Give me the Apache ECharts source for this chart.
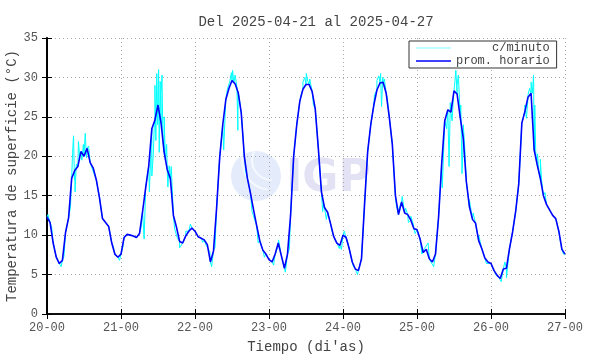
<!DOCTYPE html>
<html>
<head>
<meta charset="utf-8">
<script src="https://cdn.jsdelivr.net/npm/echarts@6/dist/echarts.min.js"></script>
<style>
  html, body { margin: 0; padding: 0; background: #fff; }
  #chart { width: 590px; height: 354px; }
</style>
</head>
<body>
<div id="chart"></div>
<script>
// tick labels of the time axis (one per day, hours since 20-00)
const dayLabels = ['20-00', '21-00', '22-00', '23-00', '24-00', '25-00', '26-00', '27-00']

// hourly mean (prom. horario), one array per day, h0..h23
const day20 = [12.3, 11.6, 9.0, 7.2, 6.4, 6.8, 10.3, 12.2, 17.2, 18.2, 18.7, 20.6, 20.0, 21.0, 19.2, 18.5, 17.0, 14.8, 12.1, 11.6, 11.1, 9.0, 7.6, 7.2]
const day21 = [7.6, 9.7, 10.1, 10.0, 9.9, 9.7, 10.2, 13.0, 16.0, 18.8, 23.5, 24.6, 26.5, 24.2, 20.5, 18.3, 17.2, 12.5, 11.0, 9.2, 9.0, 9.9, 10.5, 10.9]
const day22 = [10.5, 9.8, 9.6, 9.4, 8.8, 6.6, 8.0, 13.4, 19.8, 24.0, 27.2, 28.6, 29.6, 29.2, 28.1, 25.5, 20.0, 17.2, 15.3, 13.2, 11.2, 9.3, 8.1, 7.6]
const day23 = [6.9, 6.6, 7.6, 9.0, 7.4, 5.8, 7.6, 12.5, 20.0, 24.0, 27.0, 28.5, 29.1, 29.1, 28.2, 26.0, 21.0, 15.5, 13.5, 12.9, 11.4, 9.8, 9.0, 8.7]
const day24 = [10.0, 9.7, 8.3, 6.6, 5.7, 5.5, 7.0, 14.0, 20.6, 24.0, 26.5, 28.4, 29.3, 29.4, 28.0, 25.0, 21.5, 15.0, 12.6, 14.2, 12.8, 12.6, 11.9, 10.8]
const day25 = [10.7, 9.5, 7.8, 8.2, 7.0, 6.6, 7.6, 12.3, 19.0, 24.5, 25.9, 25.6, 28.3, 27.9, 25.0, 22.3, 16.8, 13.6, 12.0, 11.5, 9.3, 8.3, 7.1, 6.6]
const day26 = [6.4, 5.5, 4.9, 4.5, 5.7, 5.8, 8.3, 10.4, 13.0, 16.5, 24.2, 25.7, 27.5, 28.0, 20.8, 18.9, 17.2, 15.0, 13.9, 13.2, 12.5, 12.1, 10.5, 8.2]
const lastHour = [7.6]

// per-minute readings where they leave the hourly curve: [hours since 20-00, value]
const minuteDay20 = [[0.3, 12.6], [1.5, 11.0], [3.5, 6.8], [4.6, 6.0], [5.5, 7.3], [7.6, 13.5], [8.3, 20.5], [8.6, 22.6], [8.9, 17.0], [9.1, 15.5], [9.5, 19.0], [10.2, 21.9], [10.6, 20.0], [11.3, 19.5], [11.8, 21.5], [12.4, 22.9], [12.8, 19.8], [13.5, 21.3], [14.5, 18.6], [21.5, 8.6], [23.0, 7.0], [23.5, 6.8]]
const minuteDay21 = [[24.6, 8.5], [30.5, 10.9], [31.5, 9.5], [33.2, 15.5], [34.0, 17.5], [34.5, 20.4], [34.8, 24.0], [35.0, 29.0], [35.3, 22.0], [35.6, 30.5], [35.9, 24.0], [36.2, 31.0], [36.4, 20.5], [36.7, 29.5], [37.0, 28.0], [37.3, 30.3], [37.6, 22.0], [38.0, 25.0], [38.4, 19.5], [38.8, 21.5], [39.2, 16.1], [39.6, 18.8], [40.3, 18.7], [41.4, 10.8], [42.3, 9.6], [43.0, 8.4], [44.4, 9.2], [45.0, 10.5], [46.5, 11.4]]
const minuteDay22 = [[49.0, 10.0], [50.5, 9.1], [51.5, 8.8], [52.8, 7.9], [53.4, 6.0], [54.5, 8.5], [56.8, 23.0], [57.3, 20.8], [57.8, 25.5], [58.5, 28.5], [59.3, 29.5], [59.8, 30.6], [60.2, 30.9], [60.6, 29.3], [61.0, 30.3], [61.6, 28.8], [61.9, 23.3], [62.3, 27.5], [64.5, 18.0], [66.5, 13.0], [68.5, 9.0], [70.5, 7.2]]
const minuteDay23 = [[73.5, 6.2], [74.8, 8.4], [75.1, 9.4], [77.3, 5.3], [78.6, 8.2], [82.4, 27.8], [83.0, 29.4], [83.6, 30.0], [84.1, 30.5], [84.6, 29.5], [85.2, 29.8], [86.4, 26.5], [89.4, 13.0], [89.7, 14.0], [90.6, 12.0], [92.3, 10.7], [93.0, 9.6], [94.8, 8.3], [95.5, 8.2]]
const minuteDay24 = [[96.4, 10.5], [97.6, 9.0], [99.3, 6.1], [100.7, 5.0], [101.5, 5.4], [106.2, 27.8], [107.0, 29.6], [107.6, 30.2], [108.2, 30.5], [108.5, 26.3], [108.9, 30.0], [109.4, 29.8], [110.3, 27.5], [113.3, 13.8], [114.0, 13.2], [115.2, 14.9], [116.3, 13.4], [117.2, 11.6], [118.0, 12.4], [118.8, 11.4], [119.4, 10.2]]
const minuteDay25 = [[120.4, 10.2], [121.6, 7.6], [122.4, 8.3], [123.6, 9.0], [124.5, 6.6], [125.4, 6.0], [128.2, 16.0], [129.6, 23.5], [130.0, 26.0], [130.4, 18.7], [130.8, 26.8], [131.4, 24.5], [131.8, 27.5], [132.3, 29.5], [132.6, 30.9], [133.0, 29.0], [133.4, 30.3], [133.8, 27.0], [134.2, 26.5], [134.6, 17.8], [135.0, 24.0], [135.5, 21.0], [137.0, 14.5], [138.2, 12.8], [140.0, 10.0], [142.5, 6.4]]
const minuteDay26 = [[145.5, 5.0], [146.6, 4.6], [147.3, 4.1], [148.5, 6.6], [149.0, 4.6], [154.6, 24.4], [155.0, 26.5], [155.5, 24.8], [156.0, 27.8], [156.5, 28.6], [157.0, 29.4], [157.4, 28.0], [157.8, 30.3], [158.2, 26.5], [158.5, 20.6], [158.8, 19.0], [159.1, 20.3], [159.5, 18.0], [160.0, 19.6], [160.4, 17.0], [161.5, 15.4], [166.5, 9.2], [167.5, 7.6]]

const FONT = '"Liberation Mono", "DejaVu Sans Mono", monospace'

const hourly = [].concat(day20, day21, day22, day23, day24, day25, day26, lastHour)
const hourlyPoints = hourly.map((v, i) => [i, v])

// minute series: hourly points plus the readings that stray from them
const minutePoints = hourlyPoints
  .concat(minuteDay20, minuteDay21, minuteDay22, minuteDay23, minuteDay24, minuteDay25, minuteDay26)
  .sort((a, b) => a[0] - b[0])

const chart = echarts.init(document.getElementById('chart'), null, { renderer: 'canvas' })

const frameLine = { show: true, lineStyle: { color: '#000', width: 1.5 } }
const innerTick = { show: true, inside: true, length: 5, lineStyle: { color: '#000', width: 1 } }
const gridDots = { show: true, lineStyle: { color: '#a8a8a8', width: 1, type: [1, 3] } }

const option = {
  backgroundColor: '#fff',
  animation: false,
  title: {
    text: 'Del 2025-04-21 al 2025-04-27',
    left: 311,
    top: 10,
    textAlign: 'center',
    textStyle: { fontFamily: FONT, fontSize: 14, fontWeight: 'normal', color: '#444' }
  },
  legend: {
    data: [
      { name: 'c/minuto', icon: 'rect', itemStyle: { color: '#a8ffff' } },
      { name: 'prom. horario', icon: 'rect', itemStyle: { color: '#0000ff' } }
    ],
    orient: 'vertical',
    left: 409,
    top: 41,
    itemWidth: 35,
    itemHeight: 1.5,
    itemGap: 1,
    padding: [1, 7, 1, 7],
    borderColor: '#333',
    borderWidth: 1,
    borderRadius: 0,
    backgroundColor: '#fff',
    formatter: name => name.padStart(13, ' '),
    textStyle: { fontFamily: FONT, fontSize: 12, color: '#444', lineHeight: 12 }
  },
  grid: { left: 47, right: 25, top: 38, bottom: 40, containLabel: false, outerBoundsMode: 'none' },
  xAxis: [
    {
      type: 'value',
      min: 0,
      max: 168,
      interval: 24,
      name: "Tiempo (di'as)",
      nameLocation: 'middle',
      nameGap: 26,
      nameMoveOverlap: false,
      nameTextStyle: { fontFamily: FONT, fontSize: 14, color: '#444' },
      axisLine: frameLine,
      axisTick: innerTick,
      axisLabel: {
        margin: 8,
        fontFamily: FONT,
        fontSize: 12,
        color: '#555',
        formatter: v => dayLabels[Math.round(v / 24)]
      },
      splitLine: gridDots
    },
    {
      type: 'value',
      position: 'top',
      min: 0,
      max: 168,
      interval: 24,
      axisLine: frameLine,
      axisTick: innerTick,
      axisLabel: { show: false },
      splitLine: { show: false }
    }
  ],
  yAxis: [
    {
      type: 'value',
      min: 0,
      max: 35,
      interval: 5,
      name: 'Temperatura de superficie (°C)',
      nameLocation: 'middle',
      nameGap: 28,
      nameMoveOverlap: false,
      nameTextStyle: { fontFamily: FONT, fontSize: 14, color: '#444' },
      axisLine: frameLine,
      axisTick: innerTick,
      axisLabel: { margin: 9, fontFamily: FONT, fontSize: 12, color: '#555' },
      splitLine: gridDots
    },
    {
      type: 'value',
      position: 'right',
      min: 0,
      max: 35,
      interval: 5,
      axisLine: { show: true, lineStyle: { color: '#000', width: 2 } },
      axisTick: innerTick,
      axisLabel: { show: false },
      splitLine: { show: false }
    }
  ],
  graphic: [
    {
      type: 'group',
      z: 1,
      silent: true,
      children: [
        { type: 'circle', shape: { cx: 256, cy: 176, r: 25 }, style: { fill: '#e4ebfb' } },
        { type: 'arc', shape: { cx: 272, cy: 160, r: 20, startAngle: 1.6, endAngle: 3.6 }, style: { stroke: '#f4f8ff', lineWidth: 2, fill: null } },
        { type: 'arc', shape: { cx: 272, cy: 160, r: 30, startAngle: 1.7, endAngle: 3.4 }, style: { stroke: '#f4f8ff', lineWidth: 2, fill: null } },
        { type: 'text', left: 286, top: 158, style: { text: 'IGP', font: 'bold 44px "DejaVu Sans", sans-serif', fill: '#e2e2f4' } }
      ]
    }
  ],
  series: [
    {
      name: 'c/minuto',
      type: 'line',
      symbol: 'none',
      z: 3,
      lineStyle: { color: '#00ffff', width: 1 },
      itemStyle: { color: '#00ffff' },
      data: minutePoints
    },
    {
      name: 'prom. horario',
      type: 'line',
      symbol: 'none',
      z: 4,
      lineStyle: { color: '#0000ff', width: 1.6 },
      itemStyle: { color: '#0000ff' },
      data: hourlyPoints
    }
  ]
}

chart.setOption(option)
</script>
</body>
</html>
